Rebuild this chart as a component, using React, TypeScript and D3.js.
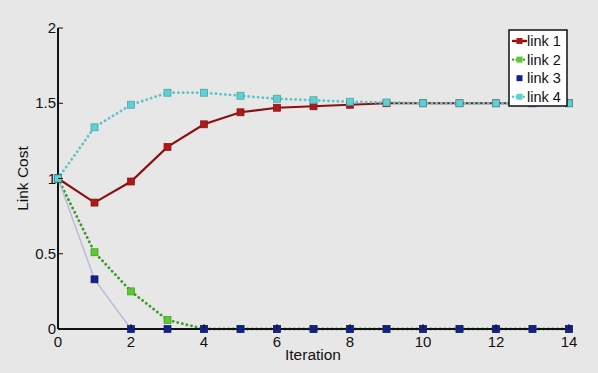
import * as d3 from "d3";

const iterations = d3.range(0, 15);
const link1 = [1, 0.84, 0.98, 1.21, 1.36, 1.44, 1.47, 1.48, 1.49, 1.5, 1.5, 1.5, 1.5, 1.5, 1.5];
const link2 = [1, 0.51, 0.25, 0.06, 0, 0, 0, 0, 0, 0, 0, 0, 0, 0, 0];
const link3 = [1, 0.33, 0, 0, 0, 0, 0, 0, 0, 0, 0, 0, 0, 0, 0];
const link4 = [1, 1.34, 1.49, 1.57, 1.57, 1.55, 1.53, 1.52, 1.51, 1.505, 1.5, 1.5, 1.5, 1.5, 1.5];
const seriesNames = ["link 1", "link 2", "link 3", "link 4"];
const xTicks = [0, 2, 4, 6, 8, 10, 12, 14];
const yTicks = [0, 0.5, 1, 1.5, 2];

type Series = {
  name: string;
  values: number[];
  line: string;
  marker: string;
  dash: string | null;
  width: number;
};

const series: Series[] = [
  { name: seriesNames[0], values: link1, line: "#8b1010", marker: "#b01818", dash: null, width: 2.2 },
  { name: seriesNames[1], values: link2, line: "#3f9a2a", marker: "#5cc832", dash: "0.1,4.6", width: 2.8 },
  { name: seriesNames[2], values: link3, line: "#b8bcd8", marker: "#14208c", dash: null, width: 1.5 },
  { name: seriesNames[3], values: link4, line: "#5fc4c4", marker: "#5ed0d4", dash: "0.1,4.6", width: 2.8 },
];

export default function App() {
  const width = 598;
  const height = 373;
  const x = d3.scaleLinear().domain([0, 14]).range([58, 569]);
  const y = d3.scaleLinear().domain([0, 2]).range([329, 28]);

  const line = d3
    .line<number>()
    .x((_, i) => x(iterations[i]))
    .y((d) => y(d));

  const font = "'Liberation Sans', Arial, sans-serif";

  return (
    <svg
      width={width}
      height={height}
      style={{ position: "absolute", left: 0, top: 0 }}
      fontFamily={font}
    >
      <rect width={width} height={height} fill="#e7e7e7" />

      {/* series lines */}
      {series.map((s) => (
        <path
          key={s.name}
          d={line(s.values) ?? ""}
          fill="none"
          stroke={s.line}
          strokeWidth={s.width}
          strokeDasharray={s.dash ?? undefined}
          strokeLinecap="round"
        />
      ))}

      {/* axes */}
      <line x1={x(0)} x2={x(0)} y1={y(2)} y2={y(0)} stroke="#111" strokeWidth={2} />
      <line x1={x(0)} x2={x(14)} y1={y(0)} y2={y(0)} stroke="#111" strokeWidth={2} />

      {/* markers, later links on top */}
      {series.map((s) =>
        s.values.map((v, i) => (
          <rect
            key={s.name + i}
            x={x(iterations[i]) - 3.5}
            y={y(v) - 3.5}
            width={7}
            height={7}
            fill={s.marker}
            stroke={d3.color(s.marker)!.darker(0.8).toString()}
            strokeWidth={0.7}
          />
        ))
      )}

      {/* ticks */}
      {xTicks.map((t) => (
        <g key={"x" + t}>
          <line x1={x(t)} x2={x(t)} y1={y(0)} y2={y(0) - 5} stroke="#111" strokeWidth={1} />
          <text x={x(t)} y={y(0) + 18} textAnchor="middle" fontSize={15} fill="#111">
            {t}
          </text>
        </g>
      ))}
      {yTicks.map((t) => (
        <g key={"y" + t}>
          <line x1={x(0)} x2={x(0) + 5} y1={y(t)} y2={y(t)} stroke="#111" strokeWidth={1} />
          <text x={x(0) - 2} y={y(t) + 5} textAnchor="end" fontSize={15} fill="#111">
            {t}
          </text>
        </g>
      ))}

      {/* axis titles */}
      <text x={313} y={360} textAnchor="middle" fontSize={15.5} fill="#111">
        Iteration
      </text>
      <text
        transform={`translate(28,${y(1)}) rotate(-90)`}
        textAnchor="middle"
        fontSize={15.5}
        fill="#111"
      >
        Link Cost
      </text>

      {/* legend */}
      <g>
        <rect x={509} y={30} width={58} height={76} fill="#fff" stroke="#111" strokeWidth={1.5} />
        {series.map((s, i) => {
          const cy = 41 + i * 18.6;
          return (
            <g key={s.name + "-leg"}>
              {s.name !== "link 3" && (
                <line
                  x1={513}
                  x2={526}
                  y1={cy}
                  y2={cy}
                  stroke={s.line}
                  strokeWidth={s.dash ? 2.4 : 2.5}
                  strokeDasharray={s.dash ? "0.1,3.5" : undefined}
                  strokeLinecap="round"
                />
              )}
              <rect x={516.5} y={cy - 3} width={6} height={6} fill={s.marker} />
              <text x={527} y={cy + 5} fontSize={14.5} fill="#111">
                {s.name}
              </text>
            </g>
          );
        })}
      </g>
    </svg>
  );
}
